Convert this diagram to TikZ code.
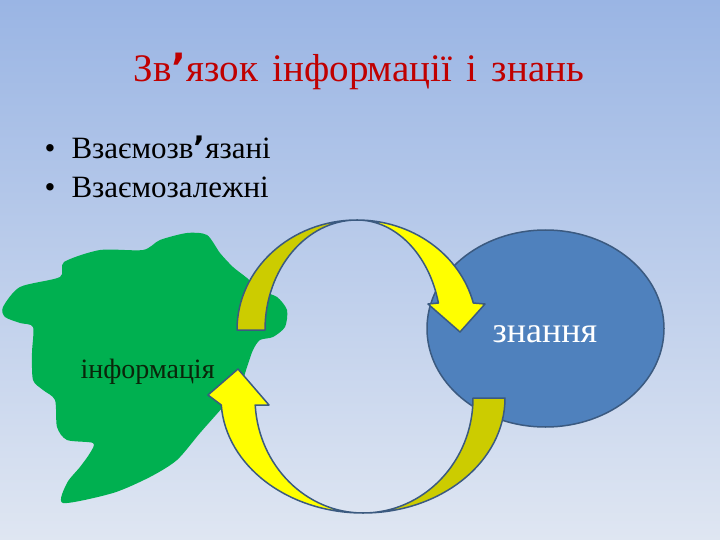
\documentclass[tikz,border=0pt]{standalone}
\usepackage{fontspec}
\setmainfont{Liberation Serif}
\newfontfamily\aposfont{DejaVu Sans}
\newcommand{\heavyapos}{{\aposfont\bfseries ’}}
\definecolor{bgtop}{HTML}{9AB5E4}
\definecolor{bgbot}{HTML}{DFE6F2}
\definecolor{titlered}{HTML}{C00000}
\definecolor{grn}{HTML}{00B050}
\definecolor{blu}{HTML}{4F81BD}
\definecolor{edge}{HTML}{3B5A80}
\definecolor{olive}{HTML}{CCCC00}
\definecolor{yel}{HTML}{FFFF00}
\definecolor{infotext}{HTML}{0A250A}
\begin{document}
\begin{tikzpicture}[x=1pt,y=-1pt,
  arrowpart/.style={draw=edge, line width=1.5pt, line join=round},
  bullettext/.style={anchor=base west, font=\fontsize{31}{34}\selectfont},
  bulletdot/.style={anchor=base, font=\fontsize{31}{34}\selectfont}]
\useasboundingbox (0,0) rectangle (720,540);
\shade[top color=bgtop,bottom color=bgbot] (0,0) rectangle (720,540);

% title
\node[anchor=base, text=titlered, font=\fontsize{39}{42}\selectfont] (title) at (359,82) {Зв\heavyapos язок\hspace{0.12em} інформації\hspace{0.12em} і\hspace{0.12em} знань};

% bullets
\node[bulletdot] (d1) at (50,159) {•};
\node[bullettext] (b1) at (68,159) {Взаємозв\heavyapos язані};
\node[bulletdot] (d2) at (50,198) {•};
\node[bullettext] (b2) at (68,198) {Взаємозалежні};

% green blob
\fill[grn] plot[smooth cycle, tension=0.45] coordinates {(3,307) (20,287) (60,277) (64,262) (100,250) (143,250) (160,240) (187,233) (207,235) (220,253) (233,267) (247,278) (260,290) (277,297) (287,310) (285,327) (273,337) (260,340) (253,350) (247,367) (240,387) (223,407) (200,433) (177,460) (150,477) (113,493) (63,503) (67,483) (80,467) (90,453) (93,443) (67,440) (57,427) (55,400) (43,390) (33,380) (32,353) (33,327) (20,323) (5,317)};

% blue ellipse
\draw[fill=blu, draw=edge, line width=1.5pt] (545.5,328.5) ellipse [x radius=118.5, y radius=98.5];

% top arrow
\draw[arrowpart, fill=olive] (237,330) arc[start angle=180, end angle=270, x radius=120, y radius=110] arc[start angle=270, end angle=180, x radius=92, y radius=110] -- cycle;
\draw[arrowpart, fill=yel] (357,220) arc[start angle=270, end angle=345.8, x radius=120, y radius=110] -- (485,304) -- (460,332) -- (428,304) -- (438.4,303) arc[start angle=345.8, end angle=270, x radius=84, y radius=110] -- cycle;

% bottom arrow
\draw[arrowpart, fill=olive] (505,398) arc[start angle=0, end angle=90, x radius=142, y radius=115] arc[start angle=90, end angle=0, x radius=110, y radius=115] -- cycle;
\draw[arrowpart, fill=yel] (363,513) arc[start angle=90, end angle=176.5, x radius=142, y radius=115] -- (208,395) -- (238,369) -- (269,405) -- (255.2,405) arc[start angle=176.5, end angle=90, x radius=108, y radius=115] -- cycle;

% labels
\node[anchor=base west, text=infotext, font=\fontsize{28}{30}\selectfont] (info) at (77,378) {інформація};
\node[anchor=base, text=white, font=\fontsize{36}{38}\selectfont] (zn) at (545,342) {знання};
\end{tikzpicture}
\end{document}
